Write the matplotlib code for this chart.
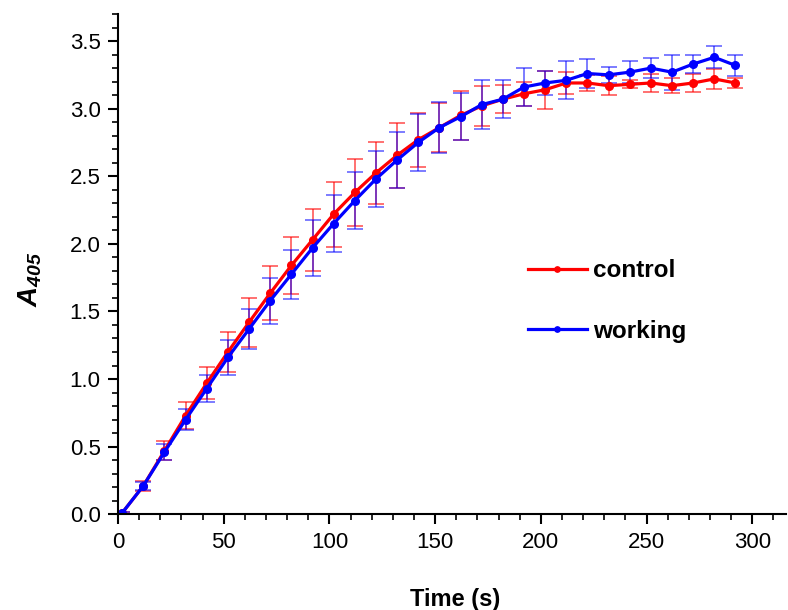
import matplotlib
matplotlib.use("Agg")
import matplotlib.pyplot as plt
from matplotlib.ticker import MultipleLocator, FormatStrFormatter

plt.rcParams['font.family'] = ['Liberation Sans', 'DejaVu Sans']
plt.rcParams['mathtext.fontset'] = 'custom'
plt.rcParams['mathtext.bf'] = 'Liberation Sans:bold:italic'
plt.rcParams['mathtext.it'] = 'Liberation Sans:italic'

time_s = [2, 12, 22, 32, 42, 52, 62, 72, 82, 92, 102, 112, 122, 132, 142,
          152, 162, 172, 182, 192, 202, 212, 222, 232, 242, 252, 262, 272, 282, 292]

control = [0.01, 0.21, 0.47, 0.73, 0.97, 1.20, 1.42, 1.635, 1.84, 2.03, 2.22, 2.38, 2.525, 2.655, 2.77,
           2.86, 2.95, 3.02, 3.07, 3.11, 3.14, 3.19, 3.19, 3.17, 3.18, 3.19, 3.17, 3.19, 3.22, 3.19]
control_err = [0.01, 0.035, 0.07, 0.10, 0.12, 0.15, 0.18, 0.20, 0.21, 0.23, 0.24, 0.25, 0.23, 0.24, 0.20,
               0.18, 0.18, 0.15, 0.105, 0.09, 0.14, 0.08, 0.06, 0.07, 0.03, 0.065, 0.055, 0.065, 0.075, 0.04]

working = [0.01, 0.21, 0.46, 0.70, 0.93, 1.16, 1.37, 1.58, 1.775, 1.97, 2.15, 2.32, 2.48, 2.62, 2.75,
           2.86, 2.94, 3.03, 3.07, 3.16, 3.19, 3.21, 3.26, 3.25, 3.27, 3.30, 3.27, 3.33, 3.38, 3.32]
working_err = [0.01, 0.03, 0.06, 0.08, 0.10, 0.13, 0.15, 0.17, 0.18, 0.21, 0.21, 0.21, 0.21, 0.21, 0.21,
               0.19, 0.175, 0.18, 0.14, 0.14, 0.09, 0.14, 0.11, 0.06, 0.08, 0.075, 0.13, 0.065, 0.08, 0.075]

fig = plt.figure(figsize=(7.88, 6.10), dpi=100)
ax = fig.add_axes([0.1497, 0.157, 0.848, 0.82])

ax.errorbar(time_s, control, yerr=control_err, color='#ff0000', ecolor=(1, 0, 0, 0.65),
            lw=2.3, elinewidth=1.2, capsize=6, capthick=1.2, marker='o', ms=5.5, label='control')
ax.errorbar(time_s, working, yerr=working_err, color='#0000ff', ecolor=(0, 0, 1, 0.6),
            lw=2.3, elinewidth=1.2, capsize=6, capthick=1.2, marker='o', ms=5.5, label='working')

ax.set_xlim(0, 316)
ax.set_ylim(0, 3.7)
ax.xaxis.set_major_locator(MultipleLocator(50))
ax.xaxis.set_minor_locator(MultipleLocator(10))
ax.yaxis.set_major_locator(MultipleLocator(0.5))
ax.yaxis.set_minor_locator(MultipleLocator(0.1))
ax.yaxis.set_major_formatter(FormatStrFormatter('%.1f'))

for s in ['top', 'right']:
    ax.spines[s].set_visible(False)
for s in ['left', 'bottom']:
    ax.spines[s].set_linewidth(1.5)
ax.tick_params(which='major', direction='out', length=7.5, width=1.5, labelsize=16, pad=5)
ax.tick_params(which='minor', direction='out', length=4, width=1.2)

ax.set_xlabel('Time (s)', fontsize=17, fontweight='bold')
ax.xaxis.set_label_coords(0.504, -0.148)
ax.set_ylabel(r'$\mathbf{A}_{\mathbf{405}}$', fontsize=20)
ax.yaxis.set_label_coords(-0.11, 0.47)

handles, labels = ax.get_legend_handles_labels()
handles = [h[0] for h in handles]
ax.legend(handles, labels, loc='upper left', bbox_to_anchor=(0.614, 0.51), frameon=False,
          borderpad=0, borderaxespad=0, handlelength=2.4, handletextpad=0.25, labelspacing=1.55,
          prop={'size': 17.5, 'weight': 'bold'}, markerscale=0.7)

fig.savefig('out.png', dpi=100)
